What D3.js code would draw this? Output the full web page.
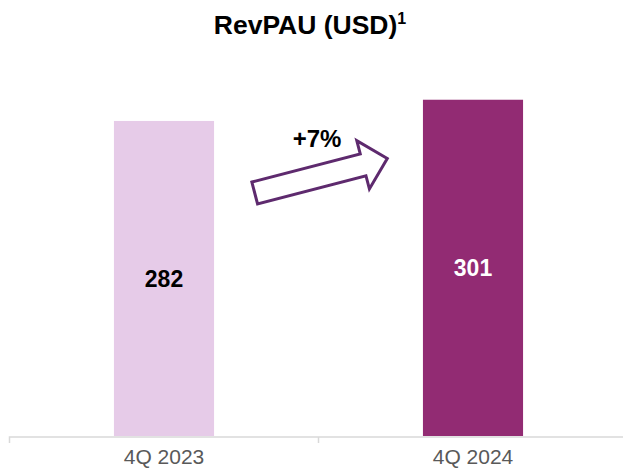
<!DOCTYPE html>
<html><head><meta charset="utf-8">
<script src="https://cdn.jsdelivr.net/npm/d3@7"></script>
<style>html,body{margin:0;padding:0;background:#fff;}svg{display:block;font-family:"Liberation Sans",Arial,sans-serif;}</style>
</head><body>
<script>
const categories = ["4Q 2023", "4Q 2024"];
const values = [282, 301];
const barColors = ["#E6CBE8", "#922B73"];
const labelColors = ["#000000", "#FFFFFF"];
const title = "RevPAU (USD)";

const W = 623, H = 468;
const svg = d3.select("body").append("svg").attr("width", W).attr("height", H);

const x = d3.scaleBand().domain(categories).range([9.5, 627.5]).paddingInner(0.676).paddingOuter(0.338);
const y = d3.scaleLinear().domain([0, 350]).range([436, 45]);

// title
const t = svg.append("text").attr("x", 310).attr("y", 34).attr("text-anchor", "middle")
  .attr("font-size", 26.5).attr("font-weight", "bold").attr("fill", "#000");
t.append("tspan").text(title);
t.append("tspan").attr("font-size", 16).attr("dy", -10).text("1");

// bars
svg.selectAll("rect.bar").data(values).enter().append("rect").attr("class", "bar")
  .attr("x", (d, i) => x(categories[i])).attr("width", x.bandwidth())
  .attr("y", d => y(d)).attr("height", d => y(0) - y(d))
  .attr("fill", (d, i) => barColors[i]);

// value labels
svg.selectAll("text.val").data(values).enter().append("text").attr("class", "val")
  .attr("x", (d, i) => x(categories[i]) + x.bandwidth() / 2)
  .attr("y", d => (y(d) + y(0)) / 2)
  .attr("dy", "0.36em").attr("text-anchor", "middle")
  .attr("font-size", 23).attr("font-weight", "bold")
  .attr("fill", (d, i) => labelColors[i]).text(d => d);

// axis
const axis = d3.axisBottom(x).tickSize(0).tickPadding(12);
const ag = svg.append("g").attr("transform", `translate(0,${y(0) + 1})`).call(axis);
ag.select(".domain").attr("stroke", "#D9D9D9").attr("stroke-width", 1.5).attr("d", "M9.5,6V0H627.5V6");
ag.selectAll(".tick text").attr("font-size", 21).attr("fill", "#595959").attr("font-family", "Liberation Sans, Arial, sans-serif");
// boundary tick between categories
const mid = (x(categories[0]) + x.bandwidth() + x(categories[1])) / 2;
ag.append("line").attr("x1", mid).attr("x2", mid).attr("y1", 0).attr("y2", 6).attr("stroke", "#D9D9D9").attr("stroke-width", 1.5);

// growth arrow
const pct = Math.round((values[1] / values[0] - 1) * 100);
const cx = (x(categories[0]) + x(categories[1]) + x.bandwidth()) / 2 + 2.5;
const cy = y(values[1]) + 76;
const L = 137, sh = 112, hw = 11.3, hh = 25;
const pts = [[0, -hw], [sh, -hw], [sh, -hh], [L, 0], [sh, hh], [sh, hw], [0, hw]];
svg.append("polygon")
  .attr("points", pts.map(p => [p[0] - L / 2, p[1]].join(",")).join(" "))
  .attr("transform", `translate(${cx},${cy}) rotate(-14.6)`)
  .attr("fill", "#fff").attr("stroke", "#5E2A6E").attr("stroke-width", 3).attr("stroke-linejoin", "miter");
svg.append("text").attr("x", cx - 4).attr("y", 146.5).attr("text-anchor", "middle")
  .attr("font-size", 24).attr("font-weight", "bold").attr("fill", "#000").text("+" + pct + "%");
</script>
</body></html>
